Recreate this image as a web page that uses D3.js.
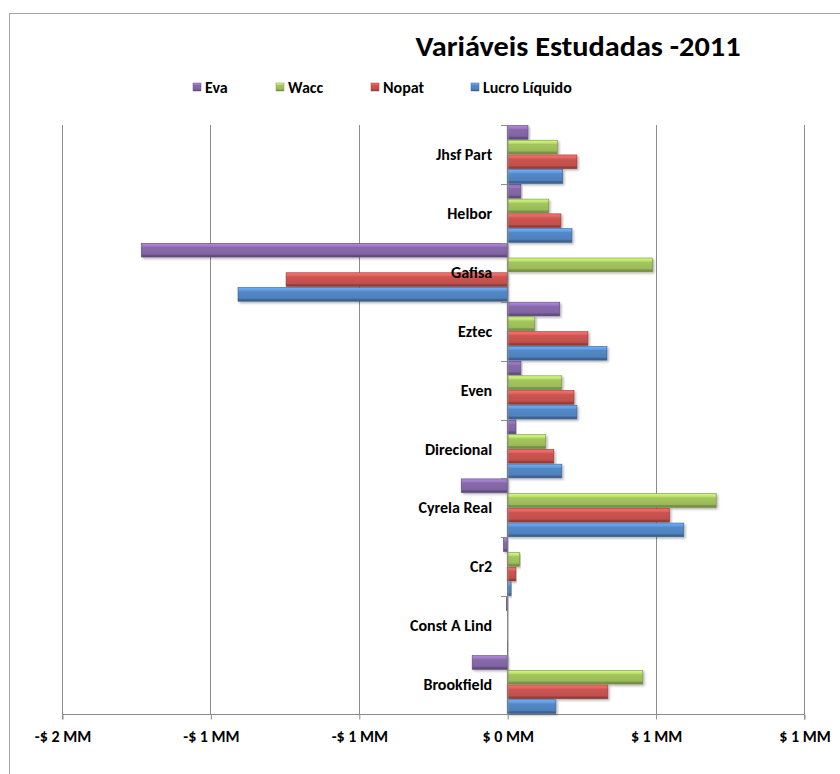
<!DOCTYPE html>
<html>
<head>
<meta charset="utf-8">
<script src="https://cdn.jsdelivr.net/npm/d3@7"></script>
<style>
  html, body { margin: 0; padding: 0; background: #fff; }
  svg { display: block; }
  text { font-family: Carlito, Calibri, Lato, "Open Sans", sans-serif; font-weight: bold; fill: #000; }
</style>
</head>
<body>
<svg id="chart" width="840" height="774"></svg>
<script>
// ---- data (values in millions of R$) ----
const categories = ["Brookfield", "Const A Lind", "Cr2", "Cyrela Real", "Direcional", "Even", "Eztec", "Gafisa", "Helbor", "Jhsf Part"];
const seriesNames = ["Eva", "Wacc", "Nopat", "Lucro Líquido"];
const eva   = [-0.118, -0.003, -0.013, -0.155, 0.029, 0.046, 0.177, -1.233, 0.046, 0.070];
const wacc  = [ 0.457,  0.000,  0.042,  0.704, 0.130, 0.184, 0.093,  0.490, 0.140, 0.169];
const nopat = [ 0.339,  0.000,  0.029,  0.547, 0.157, 0.225, 0.272, -0.745, 0.181, 0.235];
const lucro = [ 0.164,  0.002,  0.013,  0.595, 0.184, 0.235, 0.336, -0.907, 0.218, 0.187];
const tickValues = [-1.5, -1.0, -0.5, 0, 0.5, 1.0];
const tickLabels = ["-$ 2 MM", "-$ 1 MM", "-$ 1 MM", "$ 0 MM", "$ 1 MM", "$ 1 MM"];
const seriesColors = ["#8064A2", "#9BBB59", "#C0504D", "#4F81BD"];
const title = "Variáveis Estudadas -2011";

const seriesValues = [eva, wacc, nopat, lucro];

const svg = d3.select("#chart");
const plotL = 62, plotR = 804, plotT = 125, plotB = 714;
const FONT = "Carlito, Calibri, Lato, 'Open Sans', sans-serif";

// defs: gradients for bevel look
const defs = svg.append("defs");
seriesColors.forEach((c, i) => {
  const base = d3.color(c);
  const g = defs.append("linearGradient").attr("id", "grad" + i)
    .attr("x1", 0).attr("y1", 0).attr("x2", 0).attr("y2", 1);
  g.append("stop").attr("offset", "0%").attr("stop-color", base.brighter(0.9));
  g.append("stop").attr("offset", "22%").attr("stop-color", base.brighter(0.5));
  g.append("stop").attr("offset", "30%").attr("stop-color", base.brighter(0.15));
  g.append("stop").attr("offset", "78%").attr("stop-color", base);
  g.append("stop").attr("offset", "86%").attr("stop-color", base.darker(0.6));
  g.append("stop").attr("offset", "100%").attr("stop-color", base.darker(0.9));
});
const flt = defs.append("filter").attr("id", "shadow").attr("x", "-5%").attr("y", "-20%").attr("width", "115%").attr("height", "160%");
flt.append("feDropShadow").attr("dx", 1.5).attr("dy", 1.5).attr("stdDeviation", 1.2).attr("flood-color", "#000").attr("flood-opacity", 0.3);

// outer frame
svg.append("rect").attr("x", 9.5).attr("y", 13.5).attr("width", 900).attr("height", 900)
  .attr("fill", "none").attr("stroke", "#a6a6a6").attr("stroke-width", 1);

// scales
const x = d3.scaleLinear().domain([-1.5, 1.0]).range([plotL, plotR]);
const y = d3.scaleBand().domain(categories.slice().reverse()).range([plotT, plotB]).paddingInner(0).paddingOuter(0);
const ySub = d3.scaleBand().domain(seriesNames).range([0, y.bandwidth()]).padding(0);

// gridlines
svg.append("g").selectAll("line").data(tickValues).join("line")
  .attr("x1", d => Math.round(x(d)) + 0.5).attr("x2", d => Math.round(x(d)) + 0.5)
  .attr("y1", plotT).attr("y2", plotB)
  .attr("stroke", "#8c8c8c").attr("stroke-width", 1);

// bottom axis
const xAxis = d3.axisBottom(x).tickValues(tickValues).tickSize(5).tickPadding(11)
  .tickFormat((d, i) => tickLabels[i]);
const gx = svg.append("g").attr("transform", `translate(0.5,${plotB + 0.5})`).call(xAxis);
gx.select(".domain").attr("stroke", "#8c8c8c").attr("d", `M${plotL},5V0H${plotR}V5`);
gx.selectAll(".tick line").attr("stroke", "#8c8c8c");
gx.selectAll(".tick text").attr("font-size", 16).attr("font-family", FONT).attr("font-weight", "bold").attr("fill", "#000");

// bars
const groups = svg.append("g").selectAll("g").data(categories).join("g")
  .attr("transform", d => `translate(0,${y(d)})`);
groups.each(function(cat, ci) {
  const g = d3.select(this);
  seriesNames.forEach((s, si) => {
    const v = seriesValues[si][ci];
    const x0 = x(Math.min(0, v)), x1 = x(Math.max(0, v));
    const w = Math.max(x1 - x0, 0);
    if (w < 0.3) {
      if (Math.abs(v) > 0) {
        g.append("rect").attr("x", v < 0 ? x(0) - 1 : x(0)).attr("y", ySub(s) + 1)
          .attr("width", 1).attr("height", ySub.bandwidth() - 2).attr("fill", seriesColors[si]);
      }
      return;
    }
    g.append("rect")
      .attr("x", x0).attr("y", ySub(s) + 0.5)
      .attr("width", w).attr("height", ySub.bandwidth() - 1)
      .attr("fill", `url(#grad${si})`)
      .attr("stroke", d3.color(seriesColors[si]).darker(0.8))
      .attr("stroke-width", 0.6)
      .attr("filter", "url(#shadow)");
  });
});

// category axis at zero
const yAxis = d3.axisLeft(y).tickSize(0).tickFormat("");
const gy = svg.append("g").attr("transform", `translate(${Math.round(x(0)) + 0.5},0)`).call(yAxis);
gy.select(".domain").attr("stroke", "#8c8c8c");
// boundary ticks
const bounds = categories.slice().reverse().map(c => y(c)).concat([plotB]);
svg.append("g").selectAll("line").data(bounds).join("line")
  .attr("x1", Math.round(x(0)) - 6).attr("x2", Math.round(x(0)) + 0.5)
  .attr("y1", d => Math.round(d) + 0.5).attr("y2", d => Math.round(d) + 0.5)
  .attr("stroke", "#8c8c8c");

// category labels
svg.append("g").selectAll("text").data(categories).join("text")
  .attr("x", x(0) - 15)
  .attr("y", d => y(d) + y.bandwidth() / 2)
  .attr("dy", "0.35em")
  .attr("text-anchor", "end")
  .attr("font-size", 16)
  .text(d => d);

// title
svg.append("text").attr("x", 578).attr("y", 56).attr("text-anchor", "middle")
  .attr("font-size", 28).text(title)
  .attr("textLength", 325).attr("lengthAdjust", "spacingAndGlyphs");

// legend
const legendX = [193, 276, 371, 471];
const lg = svg.append("g").selectAll("g").data(seriesNames).join("g")
  .attr("transform", (d, i) => `translate(${legendX[i]},83)`);
lg.append("rect").attr("width", 8).attr("height", 8)
  .attr("fill", (d, i) => `url(#grad${i})`)
  .attr("stroke", (d, i) => d3.color(seriesColors[i]).darker(0.5)).attr("stroke-width", 0.5);
lg.append("text").attr("x", 12).attr("y", 4).attr("dy", "0.35em").attr("font-size", 16).text(d => d);
</script>
</body>
</html>
